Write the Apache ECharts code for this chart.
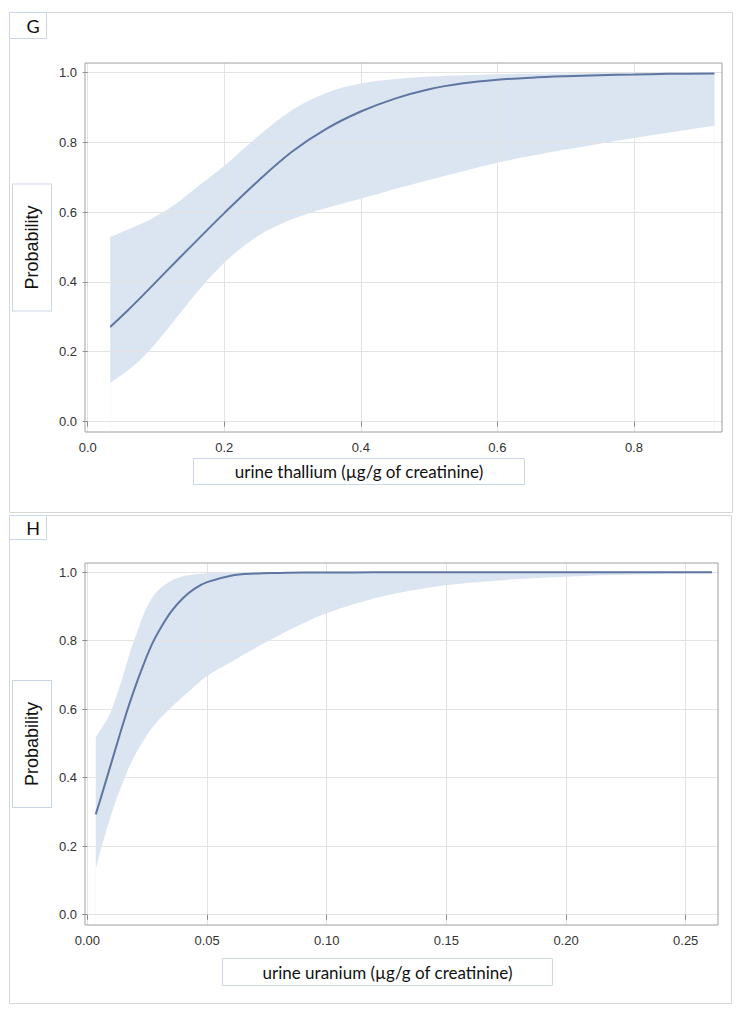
<!DOCTYPE html>
<html><head><meta charset="utf-8">
<script src="https://cdn.jsdelivr.net/npm/echarts@6/dist/echarts.min.js"></script>
<style>html,body{margin:0;padding:0;background:#fff}#c{width:745px;height:1013px}</style>
</head><body><div id="c"></div>
<script>
// Panel G: urine thallium
const gX     = [0.033, 0.06, 0.08, 0.1, 0.13, 0.16, 0.2, 0.25, 0.3, 0.35, 0.4, 0.45, 0.5, 0.55, 0.6, 0.65, 0.7, 0.75, 0.8, 0.85, 0.918];
const gFit   = [0.271, 0.321, 0.36, 0.4, 0.46, 0.519, 0.597, 0.69, 0.774, 0.839, 0.888, 0.925, 0.952, 0.969, 0.979, 0.985, 0.989, 0.992, 0.994, 0.996, 0.997];
const gUpper = [0.529, 0.551, 0.568, 0.588, 0.625, 0.672, 0.733, 0.818, 0.893, 0.942, 0.968, 0.981, 0.988, 0.992, 0.995, 0.996, 0.997, 0.998, 0.998, 0.999, 0.999];
const gLower = [0.110, 0.148, 0.183, 0.225, 0.297, 0.37, 0.455, 0.532, 0.58, 0.612, 0.638, 0.666, 0.692, 0.717, 0.741, 0.761, 0.779, 0.796, 0.812, 0.827, 0.847];
// Panel H: urine uranium
const hX     = [0.0035, 0.006, 0.009, 0.012, 0.015, 0.018, 0.021, 0.024, 0.027, 0.03, 0.035, 0.04, 0.045, 0.05, 0.06, 0.07, 0.08, 0.09, 0.1, 0.12, 0.14, 0.16, 0.18, 0.2, 0.22, 0.24, 0.261];
const hFit   = [0.293, 0.35, 0.42, 0.49, 0.56, 0.625, 0.685, 0.74, 0.79, 0.83, 0.885, 0.925, 0.953, 0.971, 0.99, 0.996, 0.998, 0.999, 0.999, 1, 1, 1, 1, 1, 1, 1, 1];
const hUpper = [0.519, 0.545, 0.58, 0.635, 0.70, 0.77, 0.83, 0.885, 0.925, 0.95, 0.975, 0.988, 0.994, 0.997, 0.999, 1, 1, 1, 1, 1, 1, 1, 1, 1, 1, 1, 1];
const hLower = [0.134, 0.20, 0.27, 0.335, 0.39, 0.44, 0.48, 0.515, 0.545, 0.57, 0.605, 0.637, 0.668, 0.697, 0.738, 0.778, 0.815, 0.85, 0.88, 0.924, 0.952, 0.969, 0.98, 0.987, 0.992, 0.995, 0.997];
// Tick labels
const probTicks = [0, 0.2, 0.4, 0.6, 0.8, 1.0];
const gXTicks = [0, 0.2, 0.4, 0.6, 0.8];
const hXTicks = [0, 0.05, 0.10, 0.15, 0.20, 0.25];
// Texts
const panelLabels = ['G', 'H'];
const xNames = ['urine thallium (µg/g of creatinine)', 'urine uranium (µg/g of creatinine)'];
const yName = 'Probability';

const LINE = '#5e76a1', BAND = '#dbe5f2', BOX = '#cdd6e9';
const zip = (a, b) => a.map((v, i) => [v, b[i]]);

function xAxis(idx, min, max, ticks, dec) {
  return {
    gridIndex: idx, type: 'value', min: min, max: max, z: 3,
    axisLine: {show: false},
    axisTick: {show: true, customValues: ticks, length: 5, lineStyle: {color: '#8a8a8a'}},
    axisLabel: {customValues: ticks, formatter: v => v.toFixed(dec), margin: 9,
      fontSize: 13, color: '#333', fontFamily: 'Liberation Sans'},
    splitLine: {show: true, lineStyle: {color: '#e3e3e3'}}
  };
}
function yAxis(idx) {
  return {
    gridIndex: idx, type: 'value', min: -0.03, max: 1.027, z: 3,
    axisLine: {show: false},
    axisTick: {show: true, customValues: probTicks, length: 5, lineStyle: {color: '#8a8a8a'}},
    axisLabel: {customValues: probTicks, formatter: v => v.toFixed(1), margin: 8,
      fontSize: 13, color: '#333', fontFamily: 'Liberation Sans'},
    splitLine: {show: true, lineStyle: {color: '#e3e3e3'}},
    name: yName, nameLocation: 'middle', nameRotate: 90, nameGap: 34, nameMoveOverlap: false,
    nameTextStyle: {fontFamily: 'Liberation Sans', fontSize: 18, color: '#111', lineHeight: 18,
      borderColor: BOX, borderWidth: 1, padding: [10, 21, 10, 21], backgroundColor: '#fff'}
  };
}
// Confidence band: upper curve filled with band colour, then the area under the
// lower curve is painted back to white, leaving the band between the two curves.
function bandSeries(idx, x, lo, up, fit) {
  return [
    {type: 'line', xAxisIndex: idx, yAxisIndex: idx, data: zip(x, up), symbol: 'none',
      smooth: 0.35, lineStyle: {width: 0, opacity: 0}, areaStyle: {color: BAND, opacity: 1, origin: 'start'},
      silent: true, z: 1},
    {type: 'line', xAxisIndex: idx, yAxisIndex: idx, data: zip(x, lo), symbol: 'none',
      smooth: 0.35, lineStyle: {width: 0, opacity: 0}, areaStyle: {color: '#ffffff', opacity: 1, origin: 'start'},
      silent: true, z: 2},
    {type: 'line', xAxisIndex: idx, yAxisIndex: idx, data: zip(x, fit), symbol: 'none',
      smooth: 0.35, lineStyle: {color: LINE, width: 2}, z: 5}
  ];
}

const chart = echarts.init(document.getElementById('c'), null, {renderer: 'svg'});
chart.setOption({
  animation: false,
  backgroundColor: '#fff',
  grid: [
    {left: 85, top: 63, width: 637, height: 369, show: true, z: 4, backgroundColor: 'transparent', borderColor: '#a0a0a0', borderWidth: 1},
    {left: 85, top: 563, width: 633, height: 362, show: true, z: 4, backgroundColor: 'transparent', borderColor: '#a0a0a0', borderWidth: 1}
  ],
  xAxis: [xAxis(0, -0.004, 0.929, gXTicks, 1), xAxis(1, -0.001, 0.2635, hXTicks, 2)],
  yAxis: [yAxis(0), yAxis(1)],
  series: [].concat(bandSeries(0, gX, gLower, gUpper, gFit), bandSeries(1, hX, hLower, hUpper, hFit)),
  graphic: [
    {type: 'rect', shape: {x: 9.5, y: 12.5, width: 723, height: 500}, style: {fill: 'none', stroke: '#d6d6d6', lineWidth: 1}, silent: true},
    {type: 'rect', shape: {x: 9.5, y: 515.5, width: 722, height: 488}, style: {fill: 'none', stroke: '#d6d6d6', lineWidth: 1}, silent: true},
    {type: 'rect', shape: {x: 9.5, y: 12.5, width: 37, height: 26}, style: {fill: '#fff', stroke: BOX, lineWidth: 1}, silent: true},
    {type: 'rect', shape: {x: 9.5, y: 515.5, width: 37, height: 24}, style: {fill: '#fff', stroke: BOX, lineWidth: 1}, silent: true},
    {type: 'text', x: 33, y: 26, style: {text: panelLabels[0], fontFamily: 'Lato', fontSize: 18, fill: '#111', textAlign: 'center', textVerticalAlign: 'middle'}},
    {type: 'text', x: 33, y: 528, style: {text: panelLabels[1], fontFamily: 'Lato', fontSize: 18, fill: '#111', textAlign: 'center', textVerticalAlign: 'middle'}},
    {type: 'rect', shape: {x: 193.5, y: 458.5, width: 331, height: 26}, style: {fill: '#fff', stroke: BOX, lineWidth: 1}, silent: true},
    {type: 'rect', shape: {x: 222.5, y: 958.5, width: 330, height: 27}, style: {fill: '#fff', stroke: BOX, lineWidth: 1}, silent: true},
    {type: 'text', x: 359, y: 471.5, style: {text: xNames[0], fontFamily: 'Lato', fontSize: 17, fill: '#111', textAlign: 'center', textVerticalAlign: 'middle'}},
    {type: 'text', x: 387.5, y: 972, style: {text: xNames[1], fontFamily: 'Lato', fontSize: 17, fill: '#111', textAlign: 'center', textVerticalAlign: 'middle'}}
  ]
});
</script>
</body></html>
